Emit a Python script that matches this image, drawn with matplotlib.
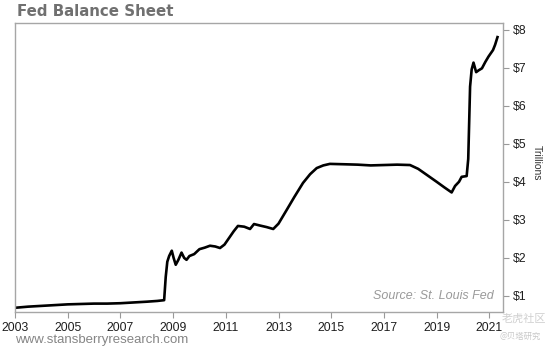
import matplotlib
matplotlib.use("Agg")
import matplotlib.pyplot as plt

# Fed balance sheet, trillions of dollars
years = [2003.0, 2003.5, 2004.0, 2004.5, 2005.0, 2005.5, 2006.0, 2006.5, 2007.0,
         2007.5, 2008.0, 2008.4, 2008.66, 2008.72, 2008.78, 2008.85, 2008.95,
         2009.02, 2009.1, 2009.2, 2009.32, 2009.42, 2009.51, 2009.62, 2009.8,
         2010.0, 2010.2, 2010.4, 2010.6, 2010.78, 2010.95, 2011.15, 2011.3,
         2011.46, 2011.7, 2011.92, 2012.07, 2012.3, 2012.55, 2012.8, 2013.0,
         2013.31, 2013.6, 2013.93, 2014.2, 2014.45, 2014.7, 2014.95, 2015.5,
         2016.0, 2016.5, 2017.0, 2017.5, 2017.99, 2018.3, 2018.63, 2019.0,
         2019.3, 2019.57, 2019.7, 2019.85, 2019.95, 2020.14, 2020.2, 2020.27,
         2020.33, 2020.4, 2020.5, 2020.6, 2020.72, 2020.85, 2020.97, 2021.14,
         2021.22, 2021.31]
assets = [0.69, 0.72, 0.74, 0.76, 0.78, 0.79, 0.80, 0.80, 0.81,
          0.83, 0.85, 0.87, 0.89, 1.5, 1.9, 2.05, 2.19,
          2.0, 1.82, 1.95, 2.14, 2.0, 1.95, 2.05, 2.1,
          2.23, 2.27, 2.32, 2.3, 2.26, 2.35, 2.55, 2.7,
          2.84, 2.82, 2.76, 2.89, 2.85, 2.81, 2.76, 2.9,
          3.26, 3.6, 3.97, 4.2, 4.36, 4.43, 4.47, 4.46,
          4.45, 4.43, 4.44, 4.45, 4.44, 4.34, 4.18, 4.0,
          3.85, 3.72, 3.89, 4.0, 4.13, 4.15, 4.6, 6.5,
          6.95, 7.13, 6.88, 6.93, 6.98, 7.15, 7.29, 7.46,
          7.6, 7.8]

ticks = [1, 2, 3, 4, 5, 6, 7, 8]
tick_labels = ["$%d" % t for t in ticks]
year_ticks = list(range(2003, 2022, 2))

plt.rcParams['font.family'] = ['Liberation Sans', 'DejaVu Sans']

fig = plt.figure(figsize=(5.47, 3.48), dpi=100)
ax = fig.add_axes([0.0274, 0.1034, 0.8922, 0.8291])
ax.plot(years, assets, color='black', linewidth=1.9, solid_joinstyle='round')

ax.set_xlim(2003, 2021.52)
ax.set_ylim(0.579, 8.158)
ax.set_xticks(year_ticks)
ax.set_xticklabels([str(y) for y in year_ticks], fontsize=8.8)
ax.yaxis.tick_right()
ax.set_yticks(ticks)
ax.set_yticklabels(tick_labels, fontsize=8.8)
ax.tick_params(axis='both', colors='#999999', length=4, width=0.8, labelcolor='#1e1e1e')
ax.tick_params(axis='x', pad=3)
ax.tick_params(axis='y', pad=3)
for s in ax.spines.values():
    s.set_color('#a6a6a6')
    s.set_linewidth(1.0)

ax.text(0.98, 0.035, "Source: St. Louis Fed", transform=ax.transAxes, ha='right',
        va='bottom', fontsize=9, style='italic', color='#9a9a9a')

fig.text(537 / 547, 1 - 163 / 348, "Trillions", rotation=270, ha='center', va='center',
         fontsize=7.5, color='#333333')
fig.text(17 / 547, 1 - 11 / 348, "Fed Balance Sheet", ha='left', va='center',
         fontsize=10.8, fontweight='bold', color='#707070', family='DejaVu Sans')
fig.text(15 / 547, 1 - 340 / 348, "www.stansberryresearch.com", ha='left', va='center',
         fontsize=9.5, color='#858585')

# faint watermarks
fig.text(524 / 547, 1 - 319 / 348, "老虎社区", ha='center', va='center', fontsize=8,
         color='#d0d0d0', family=['Noto Sans CJK SC', 'DejaVu Sans'])
fig.text(520 / 547, 1 - 336 / 348, "@贝塔研究", ha='center', va='center', fontsize=6,
         color='#c8c8c8', family=['Noto Sans CJK SC', 'DejaVu Sans'])

fig.savefig("out.png", dpi=100)
